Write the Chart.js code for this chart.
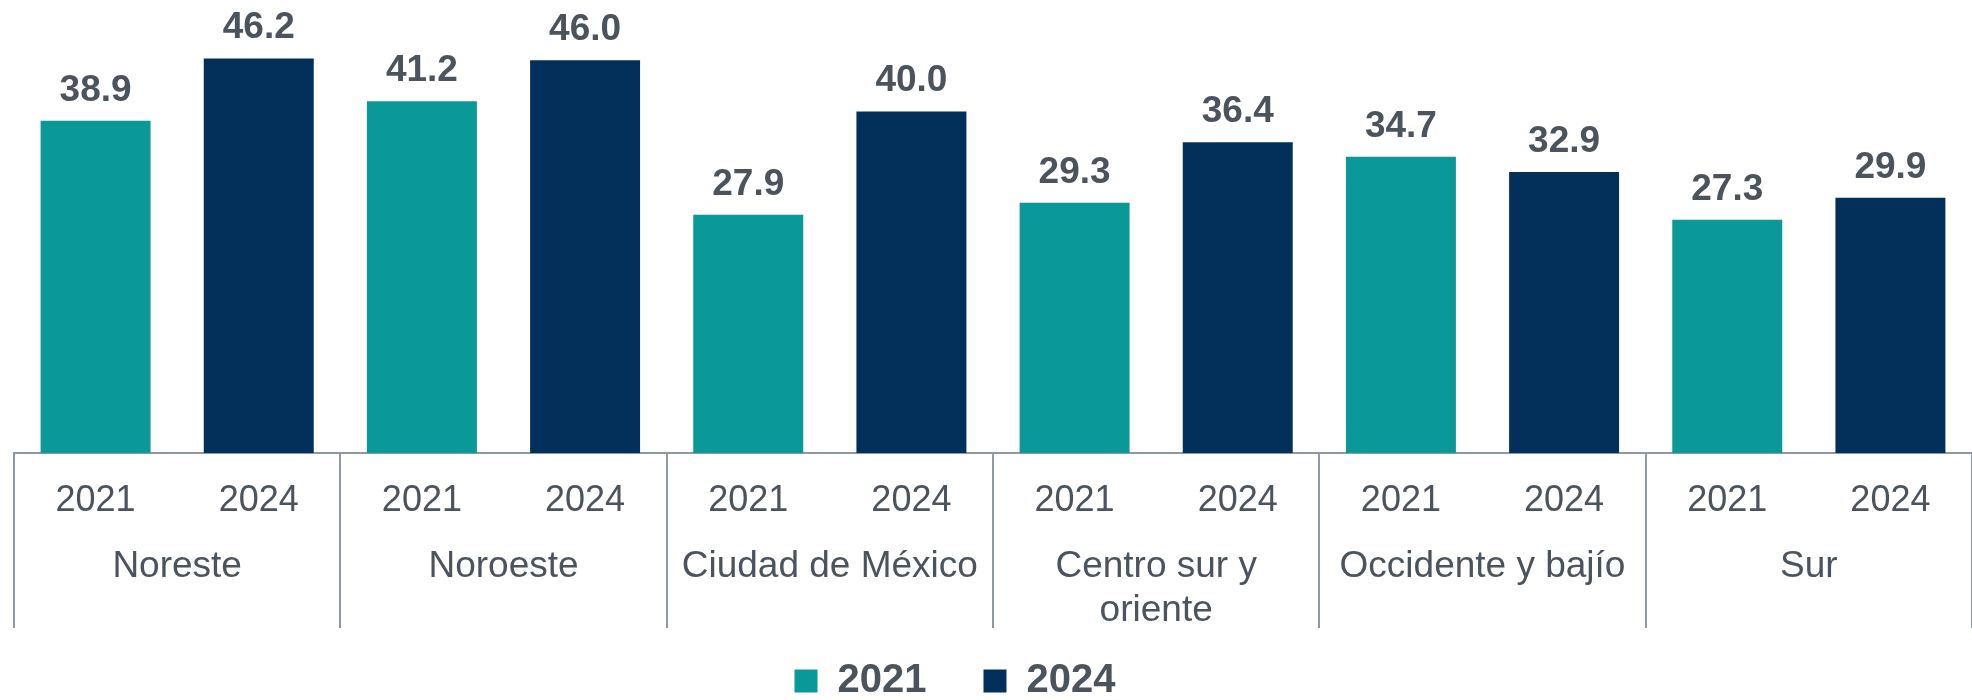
<!DOCTYPE html>
<html>
<head>
<meta charset="utf-8">
<script src="https://cdn.jsdelivr.net/npm/chart.js@4.4.1/dist/chart.umd.min.js"></script>
<style>
  html, body { margin: 0; padding: 0; background: #fff; }
  #wrap { width: 1972px; height: 700px; position: relative; }
</style>
</head>
<body>
<div id="wrap"><canvas id="regionChart"></canvas></div>
<script>
// Regions (x axis groups) and the two survey years
const regions = [
  "Noreste",
  "Noroeste",
  "Ciudad de México",
  ["Centro sur y", "oriente"],
  "Occidente y bajío",
  "Sur",
];
const years = ["2021", "2024"];

// Values per year, one per region
const values2021 = [38.9, 41.2, 27.9, 29.3, 34.7, 27.3];
const values2024 = [46.2, 46.0, 40.0, 36.4, 32.9, 29.9];

const TEAL = "#0A9898";
const NAVY = "#02305A";
const TEXT = "#4B535D";
const AXIS = "#8E99A4";
const FONT = "'Liberation Sans', Arial, sans-serif";

// Value labels above each bar
const barLabels = {
  id: "barLabels",
  afterDatasetsDraw(chart) {
    const ctx = chart.ctx;
    ctx.save();
    ctx.font = "bold 37px " + FONT;
    ctx.fillStyle = TEXT;
    ctx.textAlign = "center";
    ctx.textBaseline = "alphabetic";
    chart.data.datasets.forEach((ds, d) => {
      chart.getDatasetMeta(d).data.forEach((bar, i) => {
        ctx.fillText(ds.data[i].toFixed(1), bar.x, bar.y - 20);
      });
    });
    ctx.restore();
  },
};

// Year under each bar, region name under each pair
const groupAxis = {
  id: "groupAxis",
  afterLayout(chart) {
    // legend sits a bit left of centre in the original
    chart.legend.left -= 41;
    chart.legend.right -= 41;
  },
  afterDraw(chart) {
    const ctx = chart.ctx;
    const x = chart.scales.x;
    const base = chart.chartArea.bottom;
    ctx.save();
    ctx.fillStyle = TEXT;
    ctx.textAlign = "center";
    ctx.textBaseline = "alphabetic";
    ctx.font = "36px " + FONT;
    chart.data.datasets.forEach((ds, d) => {
      chart.getDatasetMeta(d).data.forEach((bar) => {
        ctx.fillText(ds.label, bar.x, base + 58);
      });
    });
    ctx.font = "37px " + FONT;
    regions.forEach((name, i) => {
      const lines = Array.isArray(name) ? name : [name];
      const cx = x.getPixelForValue(i);
      lines.forEach((line, k) => {
        ctx.fillText(line, cx, base + 124 + k * 44);
      });
    });
    ctx.restore();
  },
};

new Chart(document.getElementById("regionChart").getContext("2d"), {
  type: "bar",
  data: {
    labels: regions,
    datasets: [
      { label: years[0], data: values2021, backgroundColor: TEAL },
      { label: years[1], data: values2024, backgroundColor: NAVY },
    ],
  },
  options: {
    responsive: true,
    maintainAspectRatio: false,
    animation: false,
    layout: { padding: { top: 26, left: 14, right: -6, bottom: -11 } },
    datasets: {
      bar: { categoryPercentage: 1.0, barPercentage: 0.674 },
    },
    scales: {
      y: { display: false, min: 0, max: 50 },
      x: {
        ticks: { display: false },
        grid: {
          offset: true,
          drawOnChartArea: false,
          drawTicks: true,
          tickLength: 175,
          color: AXIS,
          lineWidth: 2,
        },
        border: { display: true, color: AXIS, width: 2 },
        afterFit(scale) {
          scale.height = 151;
        },
      },
    },
    plugins: {
      tooltip: { enabled: false },
      legend: {
        display: true,
        position: "bottom",
        labels: {
          boxWidth: 23,
          boxHeight: 23,
          padding: 57,
          color: TEXT,
          font: { family: FONT, size: 40, weight: "bold" },
        },
      },
    },
  },
  plugins: [barLabels, groupAxis],
});
</script>
</body>
</html>
